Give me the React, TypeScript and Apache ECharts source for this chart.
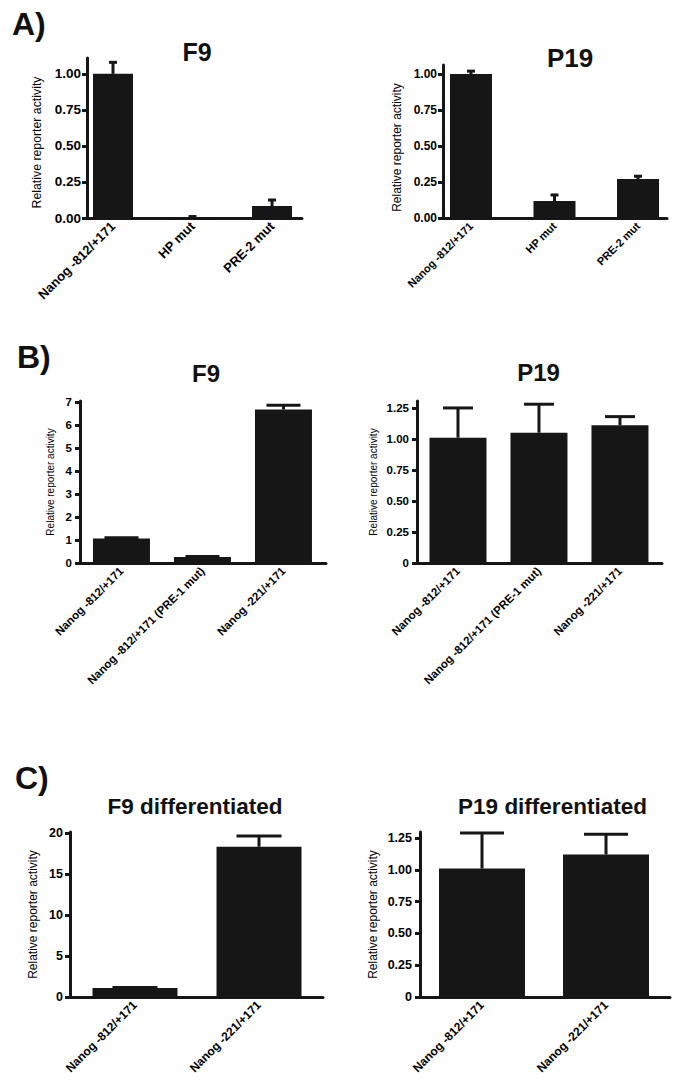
import React, { useEffect, useRef } from "react";
import * as echarts from "echarts";

// ---------------- data ----------------
const A_CATEGORIES = ["Nanog -812/+171", "HP mut", "PRE-2 mut"];
const A_F9_VALUES = [1.0, 0.005, 0.083];
const A_F9_ERRORS = [0.08, 0.005, 0.042];
const A_P19_VALUES = [1.0, 0.118, 0.27];
const A_P19_ERRORS = [0.02, 0.042, 0.02];

const B_CATEGORIES = ["Nanog -812/+171", "Nanog -812/+171 (PRE-1 mut)", "Nanog -221/+171"];
const B_F9_VALUES = [1.07, 0.26, 6.67];
const B_F9_ERRORS = [0.03, 0.02, 0.18];
const B_P19_VALUES = [1.01, 1.05, 1.11];
const B_P19_ERRORS = [0.24, 0.23, 0.07];

const C_CATEGORIES = ["Nanog -812/+171", "Nanog -221/+171"];
const C_F9_VALUES = [1.1, 18.3];
const C_F9_ERRORS = [0.05, 1.3];
const C_P19_VALUES = [1.01, 1.12];
const C_P19_ERRORS = [0.28, 0.16];

const TICKS_A = [0, 0.25, 0.5, 0.75, 1.0];
const TICK_LABELS_A = ["0.00", "0.25", "0.50", "0.75", "1.00"];
const TICKS_125 = [0, 0.25, 0.5, 0.75, 1.0, 1.25];
const TICK_LABELS_125 = ["0", "0.25", "0.50", "0.75", "1.00", "1.25"];
const TICKS_B_F9 = [0, 1, 2, 3, 4, 5, 6, 7];
const TICK_LABELS_B_F9 = ["0", "1", "2", "3", "4", "5", "6", "7"];
const TICKS_C_F9 = [0, 5, 10, 15, 20];
const TICK_LABELS_C_F9 = ["0", "5", "10", "15", "20"];

const PANEL_TITLES = ["F9", "P19", "F9", "P19", "F9 differentiated", "P19 differentiated"];
const PANEL_LETTERS = ["A)", "B)", "C)"];
const Y_NAME = "Relative reporter activity";

// ---------------- layout / style ----------------
const FONT = '"Liberation Sans", Arial, Helvetica, sans-serif';
const INK = "#161616";

const PANELS = [
  { cats: A_CATEGORIES, vals: A_F9_VALUES, errs: A_F9_ERRORS, ticks: TICKS_A, tickLabels: TICK_LABELS_A,
    L: 87, R: 302, T: 58, B: 218, xMin: -0.327, xMax: 2.377, yMax: 1.11, barW: 40, cap: 8,
    tickFont: 13.5, catFont: 13, nameFont: 12.3, nameGap: 44, namePad: [0, 9, 0, 0], labelMargin: 6,
    tx: 197, ty: 52, tf: 25 },
  { cats: A_CATEGORIES, vals: A_P19_VALUES, errs: A_P19_ERRORS, ticks: TICKS_A, tickLabels: TICK_LABELS_A,
    L: 443, R: 667, T: 65, B: 218, xMin: -0.335, xMax: 2.347, yMax: 1.0625, barW: 42, cap: 8,
    tickFont: 12, catFont: 11, nameFont: 12, nameGap: 40, namePad: [0, 12, 0, 0], labelMargin: 6,
    tx: 570, ty: 57.5, tf: 26 },
  { cats: B_CATEGORIES, vals: B_F9_VALUES, errs: B_F9_ERRORS, ticks: TICKS_B_F9, tickLabels: TICK_LABELS_B_F9,
    L: 80, R: 326, T: 401, B: 563, xMin: -0.512, xMax: 2.525, yMax: 7.04, barW: 57, cap: 34,
    tickFont: 11.5, catFont: 11.5, nameFont: 10, nameGap: 25, namePad: [0, 0, 0, 0], labelMargin: 8,
    tx: 206, ty: 373.5, tf: 24 },
  { cats: B_CATEGORIES, vals: B_P19_VALUES, errs: B_P19_ERRORS, ticks: TICKS_125, tickLabels: TICK_LABELS_125,
    L: 417, R: 662, T: 401, B: 563, xMin: -0.506, xMax: 2.519, yMax: 1.306, barW: 57, cap: 30,
    tickFont: 11.5, catFont: 11.5, nameFont: 10, nameGap: 39, namePad: [0, 0, 0, 0], labelMargin: 8,
    tx: 538.5, ty: 372.5, tf: 24 },
  { cats: C_CATEGORIES, vals: C_F9_VALUES, errs: C_F9_ERRORS, ticks: TICKS_C_F9, tickLabels: TICK_LABELS_C_F9,
    L: 70, R: 323, T: 832, B: 997, xMin: -0.524, xMax: 1.516, yMax: 20.1, barW: 85, cap: 45,
    tickFont: 12.5, catFont: 12, nameFont: 12, nameGap: 31, namePad: [0, 0, 0, 0], labelMargin: 7,
    tx: 195, ty: 806.5, tf: 22.5 },
  { cats: C_CATEGORIES, vals: C_P19_VALUES, errs: C_P19_ERRORS, ticks: TICKS_125, tickLabels: TICK_LABELS_125,
    L: 420, R: 670, T: 832, B: 997, xMin: -0.5, xMax: 1.516, yMax: 1.297, barW: 86, cap: 44,
    tickFont: 12.5, catFont: 12, nameFont: 12, nameGap: 41, namePad: [0, 0, 0, 0], labelMargin: 8,
    tx: 552.5, ty: 806.5, tf: 22.5 },
];

const LETTER_POS = [
  { x: 12, y: 24 },
  { x: 17, y: 357 },
  { x: 15, y: 778 },
];

function buildOption() {
  const grid: any[] = [];
  const xAxis: any[] = [];
  const yAxis: any[] = [];
  const series: any[] = [];
  const graphic: any[] = [];

  PANELS.forEach((p, i) => {
    grid.push({ left: p.L, top: p.T, width: p.R - p.L, height: p.B - p.T, containLabel: false });
    xAxis.push({
      gridIndex: i,
      type: "value",
      min: p.xMin,
      max: p.xMax,
      axisLine: { show: true, onZero: false, lineStyle: { color: INK, width: 3 } },
      axisTick: { show: false },
      splitLine: { show: false },
      axisLabel: {
        customValues: p.cats.map((_, j) => j),
        formatter: (v: number) => p.cats[Math.round(v)] ?? "",
        rotate: 45,
        margin: 6,
        color: "#000",
        fontFamily: FONT,
        fontWeight: "bold",
        fontSize: p.catFont,
      },
    });
    yAxis.push({
      gridIndex: i,
      type: "value",
      min: 0,
      max: p.yMax,
      name: Y_NAME,
      nameLocation: "middle",
      nameGap: p.nameGap,
      nameTextStyle: { color: "#000", fontFamily: FONT, fontSize: p.nameFont, padding: p.namePad },
      axisLine: { show: true, onZero: false, lineStyle: { color: INK, width: 3 } },
      axisTick: { show: true, length: 5, customValues: p.ticks, lineStyle: { color: INK, width: 3 } },
      splitLine: { show: false },
      axisLabel: {
        customValues: p.ticks,
        formatter: (v: number) => {
          const k = p.ticks.findIndex((t) => Math.abs(t - v) < 1e-9);
          return k >= 0 ? p.tickLabels[k] : "";
        },
        margin: p.labelMargin,
        color: "#000",
        fontFamily: FONT,
        fontWeight: "bold",
        fontSize: p.tickFont,
      },
    });
    series.push({
      type: "bar",
      xAxisIndex: i,
      yAxisIndex: i,
      barWidth: p.barW,
      itemStyle: { color: INK },
      data: p.vals.map((v, j) => [j, v]),
      silent: true,
      z: 2,
    });
    const cap = p.cap;
    series.push({
      type: "custom",
      xAxisIndex: i,
      yAxisIndex: i,
      silent: true,
      z: 3,
      encode: { x: 0, y: 1 },
      data: p.vals.map((v, j) => [j, v, p.errs[j]]),
      renderItem: (params: any, api: any) => {
        const x = api.value(0);
        const v = api.value(1);
        const e = api.value(2);
        const base = api.coord([x, v]);
        const top = api.coord([x, v + e]);
        return {
          type: "group",
          children: [
            {
              type: "line",
              shape: { x1: base[0], y1: base[1], x2: top[0], y2: top[1] },
              style: { stroke: INK, lineWidth: 3 },
            },
            {
              type: "line",
              shape: { x1: top[0] - cap / 2, y1: top[1], x2: top[0] + cap / 2, y2: top[1] },
              style: { stroke: INK, lineWidth: 3 },
            },
          ],
        };
      },
    });
    graphic.push({
      type: "text",
      x: p.tx,
      y: p.ty,
      style: {
        text: PANEL_TITLES[i],
        fill: "#111",
        font: `bold ${p.tf}px ${FONT}`,
        textAlign: "center",
        textVerticalAlign: "middle",
      },
    });
  });

  PANEL_LETTERS.forEach((t, i) => {
    graphic.push({
      type: "text",
      x: LETTER_POS[i].x,
      y: LETTER_POS[i].y,
      style: {
        text: t,
        fill: "#111",
        font: `bold 32px ${FONT}`,
        textAlign: "left",
        textVerticalAlign: "middle",
      },
    });
  });

  return {
    animation: false,
    backgroundColor: "#ffffff",
    grid,
    xAxis,
    yAxis,
    series,
    graphic,
  };
}

export default function App() {
  const ref = useRef<HTMLDivElement | null>(null);
  useEffect(() => {
    if (!ref.current) return;
    const chart = echarts.init(ref.current, undefined, { renderer: "svg" });
    chart.setOption(buildOption() as any);
    return () => chart.dispose();
  }, []);
  return (
    <div
      ref={ref}
      style={{ position: "absolute", left: 0, top: 0, width: 675, height: 1086, background: "#fff" }}
    />
  );
}
